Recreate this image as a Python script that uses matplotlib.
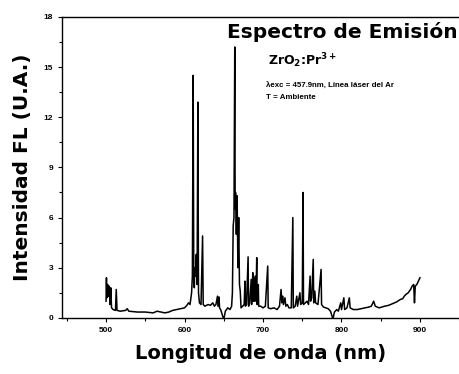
import numpy as np
import matplotlib
matplotlib.use('Agg')
import matplotlib.pyplot as plt
from matplotlib.ticker import MultipleLocator

plt.rcParams['font.family'] = ['Liberation Sans', 'DejaVu Sans']
plt.rcParams['mathtext.fontset'] = 'custom'
plt.rcParams['mathtext.rm'] = 'DejaVu Sans:bold'
plt.rcParams['mathtext.bf'] = 'DejaVu Sans:bold'

# emission spectrum (wavelength nm, intensity a.u.)
wavelength = [500, 500.5, 501, 502, 503, 504, 505, 506, 507, 509, 512, 513, 514, 518,
              525, 527, 529, 540, 550, 560, 565, 570, 575, 580, 585, 590, 595, 600,
              603, 605, 607, 609, 610, 611, 611.8, 612.5, 613, 614, 615, 616, 617,
              617.8, 619, 621, 623, 623.8, 626, 630, 633, 636, 638, 640, 642, 642.6,
              644, 644.6, 646, 648, 650, 652, 655, 658, 660, 661, 662, 663, 664,
              664.5, 665, 666, 667, 668, 669, 670, 671, 672, 674, 676, 677, 677.5,
              679, 681, 681.6, 683, 685, 685.5, 687, 687.5, 688, 689, 690, 691, 692,
              692.5, 694, 694.5, 697, 700, 703, 706, 706.6, 710, 714, 718, 721, 723,
              724, 725, 726, 728, 729, 731, 733, 736, 738, 738.6, 741, 743, 744, 747,
              748, 750, 751, 751.6, 754, 756, 758, 760, 760.6, 762, 764, 764.6, 766,
              767, 770, 774, 774.6, 777, 780, 783, 786, 788, 789, 791, 794, 796, 799,
              800, 803, 804, 807, 810, 811, 815, 820, 825, 830, 835, 838, 841, 843,
              848, 855, 860, 865, 870, 875, 878, 880, 882, 885, 888, 890, 892, 893,
              894, 896, 898, 900]
intensity = [1.0, 2.4, 1.2, 2.0, 1.3, 1.9, 0.8, 1.8, 0.6, 0.5, 0.45, 1.7, 0.45, 0.4,
             0.45, 0.55, 0.4, 0.35, 0.35, 0.3, 0.4, 0.35, 0.3, 0.35, 0.45, 0.5, 0.55, 0.6,
             0.75, 0.9, 0.8, 1.5, 2.5, 14.5, 2.0, 1.8, 3.0, 2.5, 3.8, 2.0, 12.9,
             1.5, 0.9, 0.8, 4.9, 0.8, 0.7, 0.8, 0.75, 0.9, 0.7, 0.8, 1.3, 0.7,
             1.25, 0.6, 0.5, 0.2, -0.1, 0.4, 0.6, 0.5, 0.7, 1.5, 5.5, 6.0, 16.2,
             6.5, 7.5, 5.0, 7.3, 3.0, 6.0, 2.0, 1.6, 0.6, 0.7, 0.8, 2.2, 0.7,
             0.8, 3.65, 0.7, 0.9, 2.3, 0.8, 2.7, 1.0, 2.4, 1.0, 2.5, 1.0, 3.6,
             0.8, 2.0, 0.7, 0.7, 0.6, 0.7, 3.1, 0.6, 0.55, 0.6, 0.5, 0.7, 1.7,
             0.9, 1.3, 0.8, 1.2, 0.7, 0.8, 0.6, 0.6, 6.0, 0.6, 0.7, 1.3, 0.7, 1.5,
             0.8, 0.9, 7.5, 0.8, 0.9, 1.0, 0.8, 2.5, 1.0, 1.2, 3.5, 0.9, 1.6,
             0.9, 0.8, 2.9, 0.8, 0.65, 0.6, 0.55, 0.4, 0.1, -0.1, 0.35, 0.5, 0.4, 0.9,
             0.5, 1.2, 0.5, 0.6, 1.2, 0.6, 0.5, 0.5, 0.55, 0.6, 0.65, 0.7, 1.0, 0.7,
             0.6, 0.7, 0.75, 0.85, 0.95, 1.1, 1.15, 1.3, 1.4, 1.5, 1.7, 1.9, 2.0, 0.9,
             1.9, 2.0, 2.2, 2.4]

x_ticks = [500, 600, 700, 800, 900]
y_ticks = [0, 3, 6, 9, 12, 15, 18]

fig = plt.figure(figsize=(4.6, 3.74), dpi=100)
ax = fig.add_axes([0.135, 0.150, 0.865, 0.805])

ax.plot(wavelength, intensity, color='black', linewidth=1.1)

ax.set_xlim(444, 951)
ax.set_ylim(0, 18)
ax.set_xticks(x_ticks)
ax.set_yticks(y_ticks)
ax.xaxis.set_minor_locator(MultipleLocator(50))
ax.yaxis.set_minor_locator(MultipleLocator(1.5))
ax.tick_params(which='both', direction='out', labelsize=6, width=0.8)
ax.tick_params(which='major', length=3)
ax.tick_params(which='minor', length=2)
for lab in ax.get_xticklabels() + ax.get_yticklabels():
    lab.set_fontweight('bold')
ax.spines['right'].set_visible(False)
for s in ['left', 'top', 'bottom']:
    ax.spines[s].set_linewidth(1.0)

big = ['DejaVu Sans']
ax.set_xlabel('Longitud de onda (nm)', fontsize=14, fontweight='bold',
              family=big, labelpad=7)
ax.set_ylabel('Intensidad FL (U.A.)', fontsize=14.5, fontweight='bold',
              family=big, labelpad=8)

# annotations
fig.text(0.995, 0.915, 'Espectro de Emisión', fontsize=14.5, fontweight='bold',
         family=big, ha='right', va='center')
fig.text(0.582, 0.838, r'ZrO$_{2}$:Pr$^{3+}$', fontsize=9, fontweight='bold',
         family=big, ha='left', va='center')
fig.text(0.578, 0.770, 'λexc = 457.9nm, Línea láser del Ar', fontsize=5.7,
         fontweight='bold', ha='left', va='center')
fig.text(0.578, 0.740, 'T = Ambiente', fontsize=5.7, fontweight='bold',
         ha='left', va='center')

fig.savefig('out.png', dpi=100)
